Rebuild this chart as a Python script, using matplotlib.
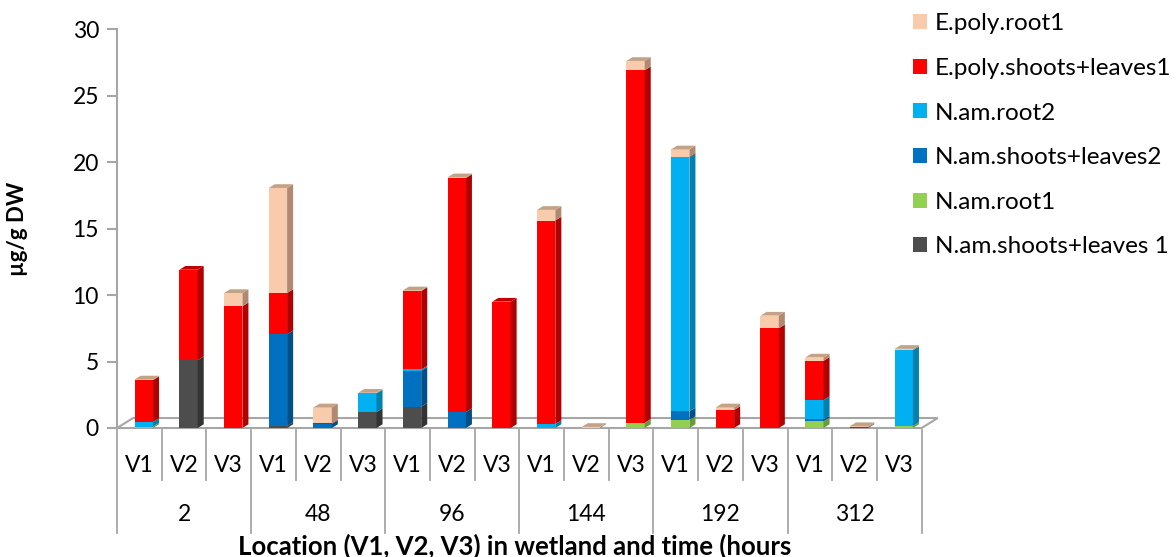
import matplotlib
matplotlib.use('Agg')
import matplotlib.pyplot as plt
import matplotlib.transforms as mtransforms
from matplotlib.patches import Polygon
import numpy as np

plt.rcParams['font.family'] = ['Lato', 'DejaVu Sans']

# categories
locations = ['V1', 'V2', 'V3'] * 6
times = ['2', '48', '96', '144', '192', '312']

# stacked series, bottom to top
series_names = ['N.am.shoots+leaves 1', 'N.am.root1', 'N.am.shoots+leaves2',
                'N.am.root2', 'E.poly.shoots+leaves1', 'E.poly.root1']
nam_shoots1 = [0, 5.1, 0, 0.15, 0, 1.2, 1.6, 0, 0, 0, 0, 0, 0, 0, 0, 0, 0, 0]
nam_root1 = [0.1, 0, 0, 0, 0, 0, 0, 0, 0, 0, 0, 0.4, 0.6, 0, 0, 0.5, 0, 0.15]
nam_shoots2 = [0, 0, 0, 6.9, 0.3, 0, 2.7, 1.2, 0, 0, 0, 0, 0.65, 0, 0, 0.15, 0.03, 0]
nam_root2 = [0.35, 0, 0, 0, 0, 1.4, 0.1, 0, 0, 0.3, 0, 0, 19.1, 0, 0, 1.45, 0, 5.7]
epoly_shoots1 = [3.15, 6.8, 9.15, 3.1, 0.05, 0, 5.9, 17.6, 9.5, 15.3, 0, 26.5,
                 0.05, 1.35, 7.5, 2.95, 0.03, 0]
epoly_root1 = [0.05, 0, 1.0, 7.9, 1.2, 0.05, 0.05, 0.05, 0, 0.8, 0.08, 0.7,
               0.55, 0.2, 0.95, 0.25, 0.08, 0.1]

colors = ['#4d4d4d', '#92d050', '#0070c0', '#00b0f0', '#ff0000', '#f8cbad']
side_colors = ['#333333', '#6b9a3a', '#004f88', '#0080ae', '#b00000', '#b08a70']
top_colors = ['#3c3c3c', '#7bb040', '#005fa3', '#0096cc', '#c00000', '#c4a285']

data = [nam_shoots1, nam_root1, nam_shoots2, nam_root2, epoly_shoots1, epoly_root1]

fig = plt.figure(figsize=(11.76, 5.57), dpi=100)
ax = fig.add_axes([0.0995, 0.2316, 0.6842, 0.7163])

x = np.arange(len(locations))
w = 0.41
dx, dy = 0.135, 0.28      # bar depth
fdx, fdy = 0.36, 0.75     # floor depth
grey = '#a6a6a6'

# floor
floor = Polygon([(-0.6, 0), (-0.6 + fdx, fdy), (17.4 + fdx, fdy), (17.4, 0)],
                closed=True, facecolor='white', edgecolor=grey, lw=1.5,
                clip_on=False, zorder=1)
ax.add_patch(floor)

bottom = np.zeros(len(x))
top_idx = np.full(len(x), -1)
for k, vals in enumerate(data):
    vals = np.array(vals, dtype=float)
    ax.bar(x, vals, w, bottom=bottom, color=colors[k], label=series_names[k],
           zorder=3, linewidth=0)
    for i in range(len(x)):
        if vals[i] <= 0:
            continue
        b, t = bottom[i], bottom[i] + vals[i]
        xr = x[i] + w / 2
        ax.add_patch(Polygon([(xr, b), (xr + dx, b + dy), (xr + dx, t + dy), (xr, t)],
                             closed=True, facecolor=side_colors[k], lw=0,
                             zorder=3, clip_on=False))
        top_idx[i] = k
    bottom += vals

for i in range(len(x)):
    k = top_idx[i]
    if k < 0:
        continue
    t = bottom[i]
    xl, xr = x[i] - w / 2, x[i] + w / 2
    ax.add_patch(Polygon([(xl, t), (xl + dx, t + dy), (xr + dx, t + dy), (xr, t)],
                         closed=True, facecolor=top_colors[k], lw=0,
                         zorder=4, clip_on=False))

ax.set_xlim(-0.6, 17.4)
ax.set_ylim(0, 30)
ax.set_yticks(range(0, 31, 5))
ax.set_xticks([])
for s in ['top', 'right', 'bottom']:
    ax.spines[s].set_visible(False)
ax.spines['left'].set_color(grey)
ax.spines['left'].set_linewidth(1.5)
ax.tick_params(axis='y', colors=grey, length=7, width=1.5, labelsize=16.5,
               labelcolor='black', pad=6)
ax.set_ylabel('µg/g DW', fontsize=16, fontweight='bold', labelpad=32)

# category table below the plot
trans = mtransforms.blended_transform_factory(ax.transData, ax.transAxes)
for j in range(1, 19):
    xb = -0.6 + j
    y_end = -0.262 if j % 3 == 0 else -0.130
    ax.plot([xb, xb], [-0.005, y_end], color=grey, lw=1.3, transform=trans,
            clip_on=False)
ax.plot([-0.6, -0.6], [0, -0.262], color=grey, lw=1.3, transform=trans,
        clip_on=False)
for i, lab in enumerate(locations):
    ax.text(x[i] - 0.1, -0.094, lab, transform=trans, ha='center', va='center',
            fontsize=16.5)
for g, lab in enumerate(times):
    ax.text(g * 3 + 0.9, -0.218, lab, transform=trans, ha='center', va='center',
            fontsize=16.5)
ax.text(8.3, -0.296, 'Location (V1, V2, V3) in wetland and time (hours',
        transform=trans, ha='center', va='center', fontsize=18.5,
        fontweight='bold')

handles, labels = ax.get_legend_handles_labels()
fig.legend(handles[::-1], labels[::-1], loc='upper left',
           bbox_to_anchor=(0.776, 0.976), frameon=False, fontsize=17.5,
           handlelength=0.58, handleheight=0.58, handletextpad=0.35,
           labelspacing=0.97, borderpad=0, borderaxespad=0)

fig.savefig('out.png', dpi=100)
